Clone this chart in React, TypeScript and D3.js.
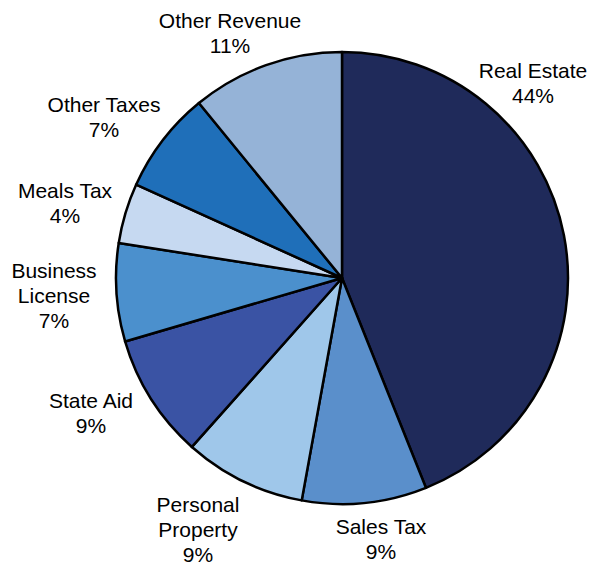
import React from "react";
import * as d3 from "d3";

const categories = ["Real Estate", "Sales Tax", "Personal Property", "State Aid", "Business License", "Meals Tax", "Other Taxes", "Other Revenue"];
const values = [43.9, 8.9, 8.7, 8.9, 7.0, 4.3, 7.3, 10.9];
const labelLines = [["Real Estate"], ["Sales Tax"], ["Personal", "Property"], ["State Aid"], ["Business", "License"], ["Meals Tax"], ["Other Taxes"], ["Other Revenue"]];
const colors = ["#1F2A5A", "#5A8FCB", "#9FC7EA", "#3A53A4", "#4B90CD", "#C6D9F1", "#1F6FB9", "#95B3D7"];

// label anchor (center x, first baseline) relative to pie center
const labelAnchors: [number, number][] = [
  [191, -200],
  [39, 256],
  [-144, 234],
  [-251, 130],
  [-288, 0],
  [-277, -80],
  [-238, -166],
  [-112, -250],
];

const W = 590, H = 564;
const cx = 342, cy = 278, R = 226;
const LINE = 25;

export default function App() {
  const total = d3.sum(values);
  const pie = d3.pie<number>().sort(null).value((d) => d);
  const arcs = pie(values);
  const arc = d3.arc<d3.PieArcDatum<number>>().innerRadius(0).outerRadius(R);
  return (
    <svg width={W} height={H} style={{ position: "absolute", left: 0, top: 0, background: "#fff" }}
      fontFamily="'Liberation Sans', Arial, sans-serif" fontSize={21}>
      <g transform={`translate(${cx},${cy})`}>
        {arcs.map((a, i) => (
          <path key={categories[i]} d={arc(a) || ""} fill={colors[i]} stroke="#000" strokeWidth={2.5} strokeLinejoin="round" />
        ))}
        {arcs.map((a, i) => {
          const lines = [...labelLines[i], `${Math.round((values[i] / total) * 100)}%`];
          const [lx, ly] = labelAnchors[i];
          return (
            <text key={"l" + i} x={lx} y={ly} textAnchor="middle" fill="#000">
              {lines.map((t, j) => (
                <tspan key={j} x={lx} y={ly + j * LINE}>{t}</tspan>
              ))}
            </text>
          );
        })}
      </g>
    </svg>
  );
}
